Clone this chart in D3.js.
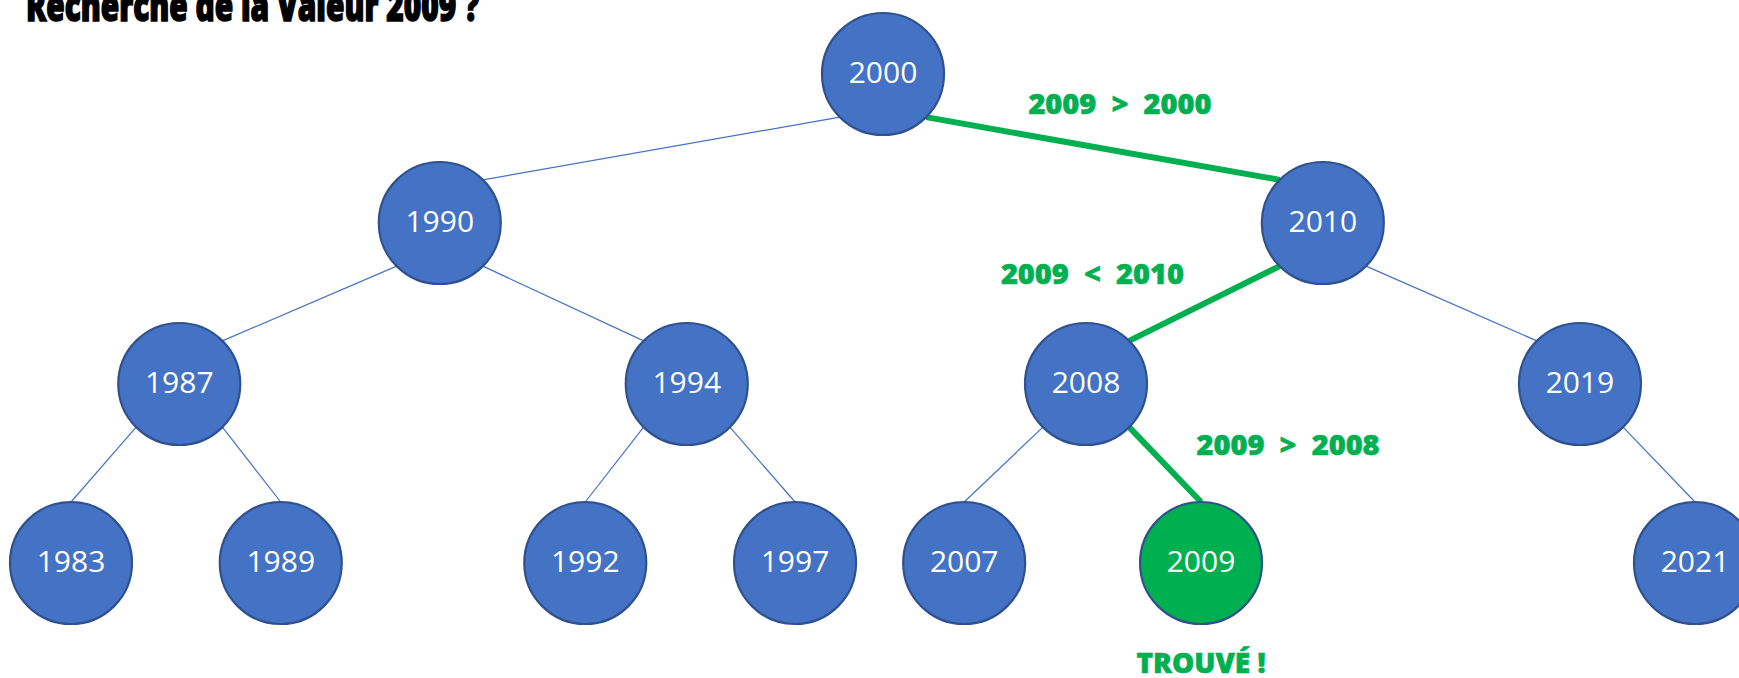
<!DOCTYPE html>
<html>
<head>
<meta charset="utf-8">
<script src="https://cdn.jsdelivr.net/npm/d3@7"></script>
<style>
  body { margin: 0; background: #fff; overflow: hidden; }
</style>
</head>
<body>
<svg id="chart"></svg>
<script>
"use strict";

// tree content: node values, their parent and horizontal slot
var values  = [2000, 1990, 2010, 1987, 1994, 2008, 2019, 1983, 1989, 1992, 1997, 2007, 2009, 2021];
var parents = [null, 2000, 2000, 1990, 1990, 2010, 2010, 1987, 1987, 1994, 1994, 2008, 2008, 2019];
var slots   = [12.0, 5.45, 18.5, 1.6,  9.1,  15.0, 22.3, 0,    3.1,  7.6,  10.7, 13.2, 16.7, 24.0];
var searched = 2009;
var titleText = "Recherche de la Valeur " + searched + " ?";
var foundText = "TROUVÉ !";

var width = 1739, height = 678, radius = 61;
var blue = "#4472C4", darkBlue = "#2F528F", green = "#00B050";

var svg = d3.select('#chart')
    .attr('width', width)
    .attr('height', height);

// build node objects
var nodes = values.map(function(v, i) {
    return {value: v, parent: parents[i], slot: slots[i]};
});
var byValue = new Map(nodes.map(function(n) { return [n.value, n]; }));
nodes.forEach(function(n) {
    var d = 0, p = n.parent;
    while (p !== null) { d++; p = byValue.get(p).parent; }
    n.depth = d;
});

var x = d3.scaleLinear().domain([0, 24]).range([71, 1695]);
var y = d3.scaleOrdinal().domain([0, 1, 2, 3]).range([74, 223, 384, 563]);

// search the tree like a BST, remember the visited path
var path = [], cur = byValue.get(values[0]);
while (cur) {
    path.push(cur.value);
    if (cur.value === searched) break;
    var goRight = searched > cur.value;
    var kids = nodes.filter(function(n) { return n.parent === cur.value; });
    cur = kids.find(function(k) { return goRight ? k.value > cur.value : k.value < cur.value; });
}

var diag = radius * Math.SQRT1_2;

// connector from parent's lower diagonal to child's upper diagonal (or top for the leaf row)
var edges = nodes.filter(function(n) { return n.parent !== null; }).map(function(n) {
    var p = byValue.get(n.parent);
    var dir = n.value > p.value ? 1 : -1;
    var e = {
        x1: x(p.slot) + dir * diag, y1: y(p.depth) + diag,
        onPath: path.indexOf(n.value) >= 0 && path.indexOf(p.value) >= 0,
        parent: p, child: n, dir: dir
    };
    if (n.depth === 3) {
        e.x2 = x(n.slot); e.y2 = y(n.depth) - radius;
    } else {
        e.x2 = x(n.slot) - dir * diag; e.y2 = y(n.depth) - diag;
    }
    return e;
});

svg.append('g').selectAll('line')
    .data(edges)
  .enter().append('line')
    .attr('x1', function(d) { return d.x1; })
    .attr('y1', function(d) { return d.y1; })
    .attr('x2', function(d) { return d.x2; })
    .attr('y2', function(d) { return d.y2; })
    .style('stroke', function(d) { return d.onPath ? green : blue; })
    .style('stroke-width', function(d) { return d.onPath ? 6 : 1.2; });

var g = svg.append('g').selectAll('g')
    .data(nodes)
  .enter().append('g')
    .attr('transform', function(d) { return 'translate(' + x(d.slot) + ',' + y(d.depth) + ')'; });

g.append('circle')
    .attr('r', radius)
    .style('fill', function(d) { return d.value === searched ? green : blue; })
    .style('stroke', darkBlue)
    .style('stroke-width', 2.2);

g.append('text')
    .attr('text-anchor', 'middle')
    .attr('y', 9)
    .style('font-family', '"Open Sans", sans-serif')
    .style('font-size', '30px')
    .style('fill', '#fff')
    .text(function(d) { return d.value; });

// comparison labels beside the green edges
var labelOffsets = [[17, -35], [-112, -20], [123, -10]];
var steps = edges.filter(function(e) { return e.onPath; });
svg.append('g').selectAll('text')
    .data(steps)
  .enter().append('text')
    .attr('text-anchor', 'middle')
    .attr('x', function(d, i) { return (d.x1 + d.x2) / 2 + labelOffsets[i][0]; })
    .attr('y', function(d, i) { return (d.y1 + d.y2) / 2 + labelOffsets[i][1]; })
    .attr('xml:space', 'preserve')
    .style('font-family', '"Open Sans", sans-serif')
    .style('font-weight', 800)
    .style('font-size', '29px')
    .style('fill', green)
    .style('stroke', green)
    .style('stroke-width', 0.6)
    .text(function(d) {
        return searched + (d.dir > 0 ? '  >  ' : '  <  ') + d.parent.value;
    });

var found = byValue.get(searched);
svg.append('text')
    .attr('text-anchor', 'middle')
    .attr('x', x(found.slot))
    .attr('y', y(found.depth) + 110)
    .style('font-family', '"Open Sans", sans-serif')
    .style('font-weight', 800)
    .style('font-size', '28px')
    .style('fill', green)
    .style('stroke', green)
    .style('stroke-width', 0.6)
    .text(foundText);

svg.append('text')
    .attr('x', 26)
    .attr('y', 21)
    .attr('textLength', 453)
    .attr('lengthAdjust', 'spacingAndGlyphs')
    .style('font-family', '"Open Sans", sans-serif')
    .style('font-weight', 800)
    .style('font-size', '42px')
    .style('fill', '#000')
    .style('stroke', '#000')
    .style('stroke-width', 1.6)
    .text(titleText);
</script>
</body>
</html>
